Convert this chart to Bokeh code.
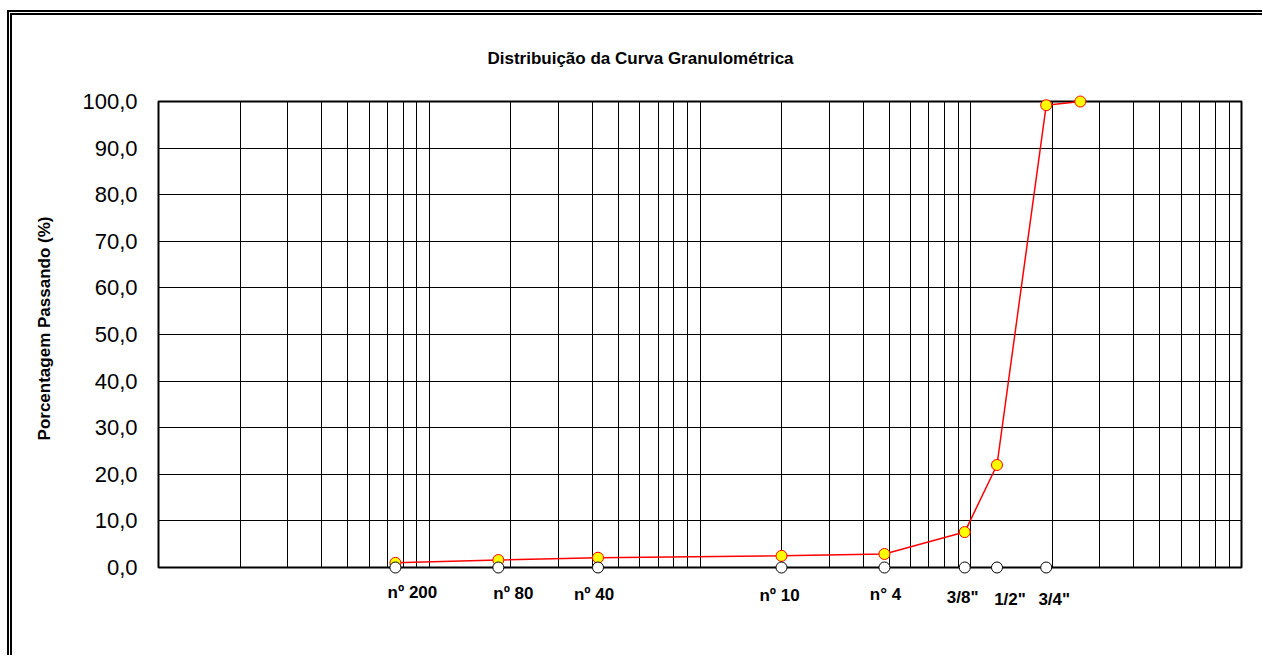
import math
from bokeh.plotting import figure
from bokeh.models import Range1d, FixedTicker
from bokeh.core.properties import value
from bokeh.layouts import column
from bokeh.embed import file_html
from bokeh.resources import INLINE

# ---------------- data ----------------
title_text = "Distribuição da Curva Granulométrica"
y_title = "Porcentagem Passando (%)"

sieve_labels = ["nº 200", "nº 80", "nº 40", "nº 10", "n° 4", '3/8"', '1/2"', '3/4"']
sieve_mm = [0.075, 0.18, 0.42, 2.0, 4.8, 9.5, 12.5, 19.0]
sieve_base = [0.0, 0.0, 0.0, 0.0, 0.0, 0.0, 0.0, 0.0]

curve_mm = [0.075, 0.18, 0.42, 2.0, 4.8, 9.5, 12.5, 19.0, 25.4]
curve_pass = [1.0, 1.6, 2.1, 2.5, 2.9, 7.6, 22.0, 99.2, 100.0]

y_ticks = [0, 10, 20, 30, 40, 50, 60, 70, 80, 90, 100]

# ---------------- layout helpers (not data) ----------------
X_MIN, X_MAX = 0.01, 100
decades = [0.01, 0.1, 1, 10]
grid_x = [d * m for d in decades for m in range(1, 10)] + [X_MAX]
label_dx = [17, 15, -4, -2, 1, -2, 13, 8]
label_dy = [25, 26, 27, 28, 27, 30, 32, 32]
FONT = "Liberation Sans"

p = figure(width=1250, height=640, x_axis_type="log",
           x_range=Range1d(X_MIN, X_MAX), y_range=Range1d(0, 100),
           output_backend="svg", toolbar_location=None,
           min_border_left=146, min_border_right=21,
           min_border_top=86, min_border_bottom=88)

p.background_fill_color = "white"
p.border_fill_color = "white"
p.outline_line_color = "black"
p.outline_line_width = 2

p.xaxis.visible = False
p.xgrid.ticker = FixedTicker(ticks=grid_x)
p.xgrid.grid_line_color = "black"
p.xgrid.grid_line_width = 1
p.ygrid.ticker = FixedTicker(ticks=y_ticks)
p.ygrid.grid_line_color = "black"
p.ygrid.grid_line_width = 1

p.yaxis.ticker = FixedTicker(ticks=y_ticks)
p.yaxis.major_label_overrides = {t: f"{t:.1f}".replace(".", ",") for t in y_ticks}
p.yaxis.major_label_text_font = FONT
p.yaxis.major_label_text_font_size = "22px"
p.yaxis.major_label_text_color = "black"
p.yaxis.axis_line_color = None
p.yaxis.major_tick_line_color = None
p.yaxis.minor_tick_line_color = None
p.yaxis.major_tick_out = 0
p.yaxis.major_label_standoff = 21

p.line(curve_mm, curve_pass, line_color="#FF0000", line_width=1.5, level="overlay")
p.scatter(curve_mm, curve_pass, size=11, fill_color="#FFFF00",
          line_color="#FF0000", line_width=1, level="overlay")
p.scatter(sieve_mm, sieve_base, size=11, fill_color="white",
          line_color="black", line_width=1, level="overlay")

# sieve names under the axis
p.text(x=sieve_mm, y=sieve_base, text=sieve_labels, x_offset=label_dx, y_offset=label_dy,
       text_align="center", text_baseline="middle", text_font=value(FONT),
       text_font_style="bold", text_font_size="17px", text_color="black",
       level="overlay")

# chart title, anchored at the top-left corner of the plot area
p.text(x=[X_MIN], y=[100], text=[title_text], x_offset=482, y_offset=-43,
       text_align="center", text_baseline="middle", text_font=value(FONT),
       text_font_style="bold", text_font_size="17px", text_color="black",
       level="overlay")

# y-axis title, anchored at the bottom-left corner of the plot area
p.text(x=[X_MIN], y=[0], text=[y_title], x_offset=-114, y_offset=-239,
       angle=math.pi / 2, text_align="center", text_baseline="middle",
       text_font=value(FONT), text_font_style="bold", text_font_size="17px",
       text_color="black", level="overlay")

root = column(p, styles={"border-left": "5px double black",
                         "border-top": "5px double black",
                         "margin-top": "10px", "margin-left": "7px"})

open("out.html", "w").write(file_html(root, INLINE))
